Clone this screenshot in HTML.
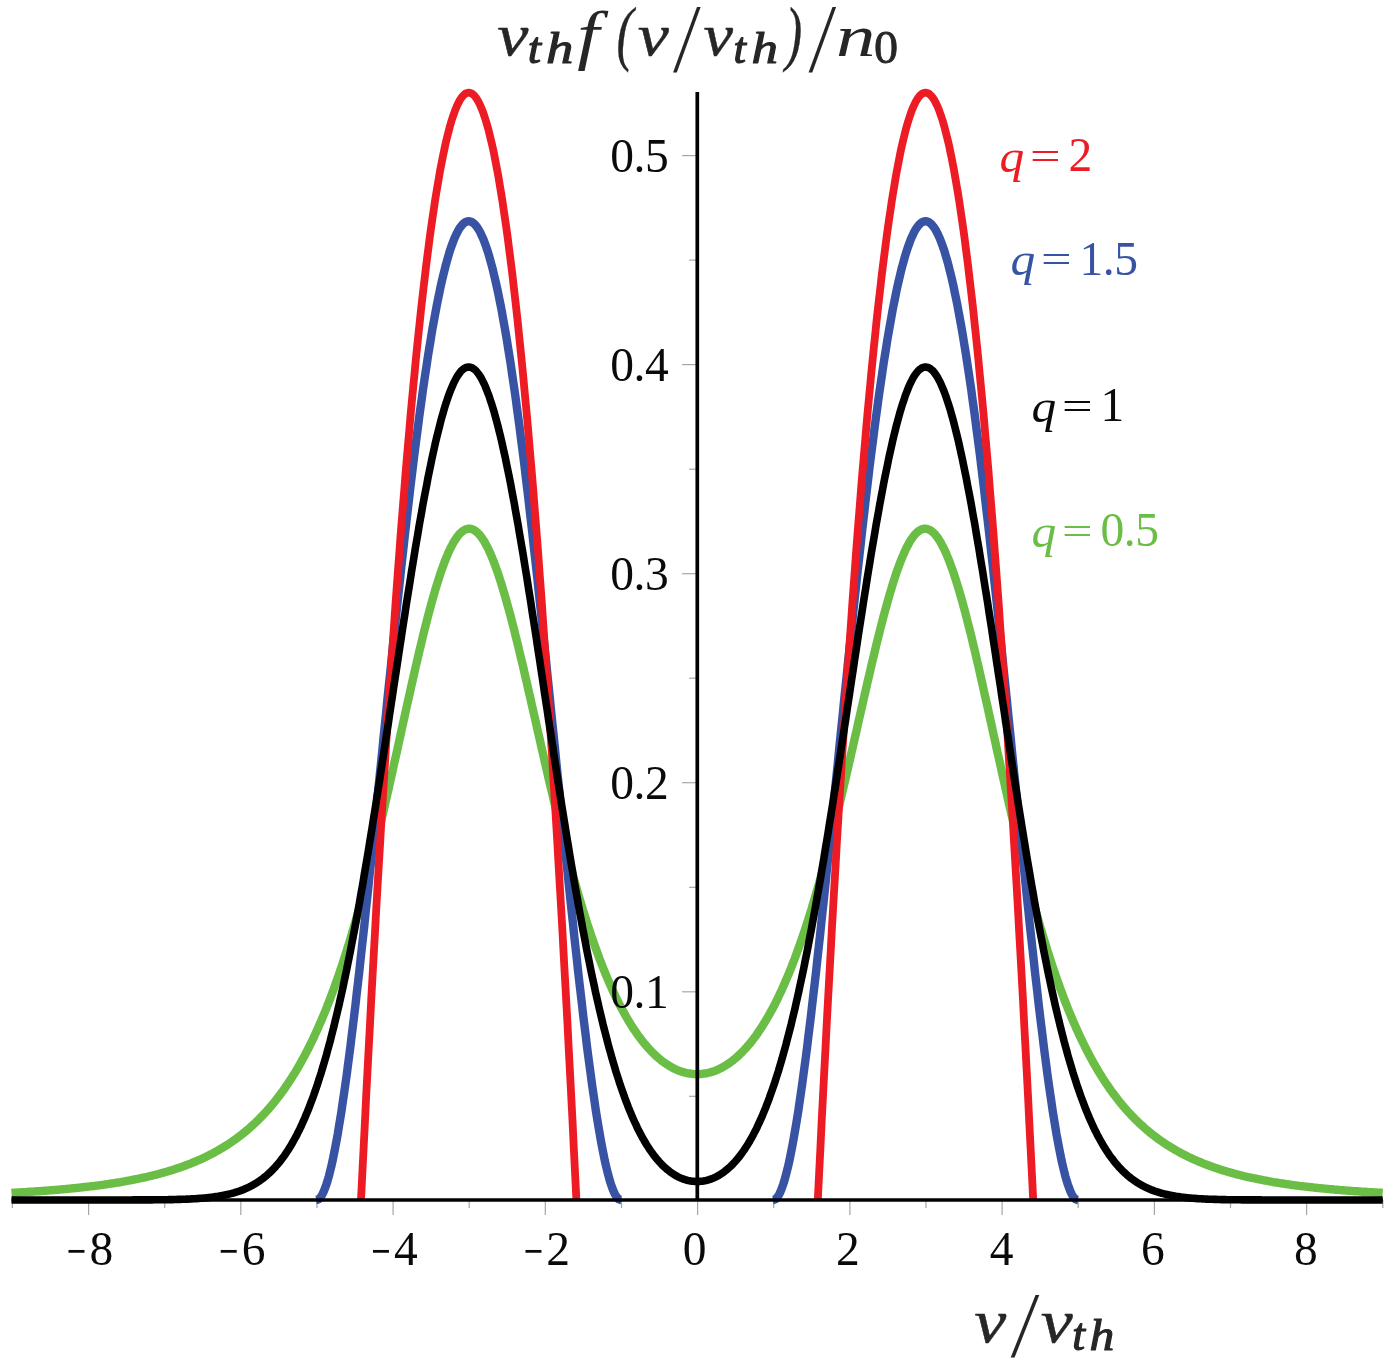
<!DOCTYPE html>
<html><head><meta charset="utf-8"><title>q-distribution</title>
<style>
html,body{margin:0;padding:0;background:#fff;}
body{width:1400px;height:1366px;overflow:hidden;position:relative;}
svg{position:absolute;left:0;top:0;display:block;}
text{font-family:"Liberation Serif","DejaVu Serif",serif;}
.num text{font-size:47.5px;}
.num{fill:#0a0a0a;}
.lg text{font-size:47.5px;}
.ax{fill:#262626;}
</style></head><body>
<svg width="1400" height="1366" viewBox="0 0 1400 1366">
<defs><filter id="bl" x="-5%" y="-20%" width="110%" height="140%"><feGaussianBlur stdDeviation="0.7"/></filter></defs>
<rect width="1400" height="1366" fill="#fff"/>
<g stroke="#a6a6a6" stroke-width="1.2"><line x1="12.4" y1="1200.0" x2="12.4" y2="1208.0"/><line x1="88.6" y1="1200.0" x2="88.6" y2="1215.0"/><line x1="164.7" y1="1200.0" x2="164.7" y2="1208.0"/><line x1="240.8" y1="1200.0" x2="240.8" y2="1215.0"/><line x1="317.0" y1="1200.0" x2="317.0" y2="1208.0"/><line x1="393.1" y1="1200.0" x2="393.1" y2="1215.0"/><line x1="469.2" y1="1200.0" x2="469.2" y2="1208.0"/><line x1="545.3" y1="1200.0" x2="545.3" y2="1215.0"/><line x1="621.5" y1="1200.0" x2="621.5" y2="1208.0"/><line x1="697.6" y1="1200.0" x2="697.6" y2="1215.0"/><line x1="773.7" y1="1200.0" x2="773.7" y2="1208.0"/><line x1="849.9" y1="1200.0" x2="849.9" y2="1215.0"/><line x1="926.0" y1="1200.0" x2="926.0" y2="1208.0"/><line x1="1002.1" y1="1200.0" x2="1002.1" y2="1215.0"/><line x1="1078.2" y1="1200.0" x2="1078.2" y2="1208.0"/><line x1="1154.4" y1="1200.0" x2="1154.4" y2="1215.0"/><line x1="1230.5" y1="1200.0" x2="1230.5" y2="1208.0"/><line x1="1306.6" y1="1200.0" x2="1306.6" y2="1215.0"/><line x1="1382.8" y1="1200.0" x2="1382.8" y2="1208.0"/><line x1="689.1" y1="1096.3" x2="697.1" y2="1096.3"/><line x1="682.1" y1="991.8" x2="697.1" y2="991.8"/><line x1="689.1" y1="887.3" x2="697.1" y2="887.3"/><line x1="682.1" y1="782.7" x2="697.1" y2="782.7"/><line x1="689.1" y1="678.2" x2="697.1" y2="678.2"/><line x1="682.1" y1="573.7" x2="697.1" y2="573.7"/><line x1="689.1" y1="469.2" x2="697.1" y2="469.2"/><line x1="682.1" y1="364.6" x2="697.1" y2="364.6"/><line x1="689.1" y1="260.1" x2="697.1" y2="260.1"/><line x1="682.1" y1="155.6" x2="697.1" y2="155.6"/></g>
<g fill="none" stroke-linejoin="round" stroke-linecap="butt">
<path d="M11.5,1192.9 L12.7,1192.8 L14.0,1192.8 L15.3,1192.7 L16.6,1192.6 L17.8,1192.5 L19.1,1192.5 L20.4,1192.4 L21.6,1192.3 L22.9,1192.2 L24.2,1192.2 L25.4,1192.1 L26.7,1192.0 L28.0,1191.9 L29.2,1191.8 L30.5,1191.8 L31.8,1191.7 L33.1,1191.6 L34.3,1191.5 L35.6,1191.4 L36.9,1191.3 L38.1,1191.2 L39.4,1191.2 L40.7,1191.1 L41.9,1191.0 L43.2,1190.9 L44.5,1190.8 L45.8,1190.7 L47.0,1190.6 L48.3,1190.5 L49.6,1190.4 L50.8,1190.3 L52.1,1190.2 L53.4,1190.1 L54.6,1190.0 L55.9,1189.9 L57.2,1189.8 L58.5,1189.7 L59.7,1189.6 L61.0,1189.4 L62.3,1189.3 L63.5,1189.2 L64.8,1189.1 L66.1,1189.0 L67.3,1188.9 L68.6,1188.7 L69.9,1188.6 L71.1,1188.5 L72.4,1188.4 L73.7,1188.2 L75.0,1188.1 L76.2,1188.0 L77.5,1187.9 L78.8,1187.7 L80.0,1187.6 L81.3,1187.4 L82.6,1187.3 L83.8,1187.2 L85.1,1187.0 L86.4,1186.9 L87.7,1186.7 L88.9,1186.6 L90.2,1186.4 L91.5,1186.3 L92.7,1186.1 L94.0,1186.0 L95.3,1185.8 L96.5,1185.6 L97.8,1185.5 L99.1,1185.3 L100.4,1185.1 L101.6,1185.0 L102.9,1184.8 L104.2,1184.6 L105.4,1184.4 L106.7,1184.2 L108.0,1184.1 L109.2,1183.9 L110.5,1183.7 L111.8,1183.5 L113.0,1183.3 L114.3,1183.1 L115.6,1182.9 L116.9,1182.7 L118.1,1182.5 L119.4,1182.3 L120.7,1182.1 L121.9,1181.8 L123.2,1181.6 L124.5,1181.4 L125.7,1181.2 L127.0,1180.9 L128.3,1180.7 L129.6,1180.5 L130.8,1180.2 L132.1,1180.0 L133.4,1179.7 L134.6,1179.5 L135.9,1179.2 L137.2,1179.0 L138.4,1178.7 L139.7,1178.4 L141.0,1178.2 L142.3,1177.9 L143.5,1177.6 L144.8,1177.3 L146.1,1177.1 L147.3,1176.8 L148.6,1176.5 L149.9,1176.2 L151.1,1175.9 L152.4,1175.6 L153.7,1175.2 L154.9,1174.9 L156.2,1174.6 L157.5,1174.3 L158.8,1173.9 L160.0,1173.6 L161.3,1173.2 L162.6,1172.9 L163.8,1172.5 L165.1,1172.2 L166.4,1171.8 L167.6,1171.4 L168.9,1171.0 L170.2,1170.7 L171.5,1170.3 L172.7,1169.9 L174.0,1169.5 L175.3,1169.1 L176.5,1168.6 L177.8,1168.2 L179.1,1167.8 L180.3,1167.3 L181.6,1166.9 L182.9,1166.4 L184.1,1166.0 L185.4,1165.5 L186.7,1165.0 L188.0,1164.6 L189.2,1164.1 L190.5,1163.6 L191.8,1163.1 L193.0,1162.5 L194.3,1162.0 L195.6,1161.5 L196.8,1160.9 L198.1,1160.4 L199.4,1159.8 L200.7,1159.3 L201.9,1158.7 L203.2,1158.1 L204.5,1157.5 L205.7,1156.9 L207.0,1156.3 L208.3,1155.6 L209.5,1155.0 L210.8,1154.3 L212.1,1153.7 L213.4,1153.0 L214.6,1152.3 L215.9,1151.6 L217.2,1150.9 L218.4,1150.2 L219.7,1149.5 L221.0,1148.7 L222.2,1148.0 L223.5,1147.2 L224.8,1146.4 L226.0,1145.6 L227.3,1144.8 L228.6,1144.0 L229.9,1143.1 L231.1,1142.3 L232.4,1141.4 L233.7,1140.5 L234.9,1139.6 L236.2,1138.7 L237.5,1137.8 L238.7,1136.8 L240.0,1135.8 L241.3,1134.9 L242.6,1133.9 L243.8,1132.8 L245.1,1131.8 L246.4,1130.7 L247.6,1129.7 L248.9,1128.6 L250.2,1127.5 L251.4,1126.3 L252.7,1125.2 L254.0,1124.0 L255.3,1122.8 L256.5,1121.6 L257.8,1120.4 L259.1,1119.1 L260.3,1117.8 L261.6,1116.5 L262.9,1115.2 L264.1,1113.9 L265.4,1112.5 L266.7,1111.1 L267.9,1109.7 L269.2,1108.2 L270.5,1106.7 L271.8,1105.2 L273.0,1103.7 L274.3,1102.2 L275.6,1100.6 L276.8,1099.0 L278.1,1097.3 L279.4,1095.6 L280.6,1094.0 L281.9,1092.2 L283.2,1090.5 L284.5,1088.7 L285.7,1086.8 L287.0,1085.0 L288.3,1083.1 L289.5,1081.2 L290.8,1079.2 L292.1,1077.2 L293.3,1075.2 L294.6,1073.2 L295.9,1071.1 L297.2,1068.9 L298.4,1066.8 L299.7,1064.5 L301.0,1062.3 L302.2,1060.0 L303.5,1057.7 L304.8,1055.3 L306.0,1052.9 L307.3,1050.5 L308.6,1048.0 L309.8,1045.4 L311.1,1042.9 L312.4,1040.2 L313.7,1037.6 L314.9,1034.9 L316.2,1032.1 L317.5,1029.3 L318.7,1026.4 L320.0,1023.5 L321.3,1020.6 L322.5,1017.6 L323.8,1014.6 L325.1,1011.5 L326.4,1008.3 L327.6,1005.1 L328.9,1001.9 L330.2,998.6 L331.4,995.2 L332.7,991.8 L334.0,988.4 L335.2,984.9 L336.5,981.3 L337.8,977.7 L339.1,974.0 L340.3,970.3 L341.6,966.5 L342.9,962.7 L344.1,958.8 L345.4,954.8 L346.7,950.8 L347.9,946.8 L349.2,942.7 L350.5,938.5 L351.7,934.3 L353.0,930.0 L354.3,925.6 L355.6,921.2 L356.8,916.8 L358.1,912.3 L359.4,907.7 L360.6,903.1 L361.9,898.4 L363.2,893.6 L364.4,888.9 L365.7,884.0 L367.0,879.1 L368.3,874.2 L369.5,869.2 L370.8,864.1 L372.1,859.0 L373.3,853.9 L374.6,848.7 L375.9,843.4 L377.1,838.1 L378.4,832.8 L379.7,827.4 L380.9,822.0 L382.2,816.6 L383.5,811.1 L384.8,805.6 L386.0,800.0 L387.3,794.4 L388.6,788.8 L389.8,783.1 L391.1,777.5 L392.4,771.8 L393.6,766.0 L394.9,760.3 L396.2,754.6 L397.5,748.8 L398.7,743.0 L400.0,737.3 L401.3,731.5 L402.5,725.7 L403.8,720.0 L405.1,714.2 L406.3,708.5 L407.6,702.7 L408.9,697.0 L410.2,691.3 L411.4,685.7 L412.7,680.0 L414.0,674.4 L415.2,668.9 L416.5,663.4 L417.8,657.9 L419.0,652.5 L420.3,647.2 L421.6,641.9 L422.8,636.6 L424.1,631.5 L425.4,626.4 L426.7,621.4 L427.9,616.5 L429.2,611.7 L430.5,606.9 L431.7,602.3 L433.0,597.8 L434.3,593.4 L435.5,589.1 L436.8,584.9 L438.1,580.8 L439.4,576.8 L440.6,573.0 L441.9,569.4 L443.2,565.8 L444.4,562.4 L445.7,559.1 L447.0,556.0 L448.2,553.1 L449.5,550.3 L450.8,547.6 L452.1,545.2 L453.3,542.8 L454.6,540.7 L455.9,538.7 L457.1,536.9 L458.4,535.3 L459.7,533.8 L460.9,532.6 L462.2,531.5 L463.5,530.6 L464.7,529.8 L466.0,529.3 L467.3,528.9 L468.6,528.7 L469.8,528.7 L471.1,528.9 L472.4,529.3 L473.6,529.8 L474.9,530.6 L476.2,531.5 L477.4,532.6 L478.7,533.9 L480.0,535.3 L481.3,537.0 L482.5,538.8 L483.8,540.7 L485.1,542.9 L486.3,545.2 L487.6,547.6 L488.9,550.3 L490.1,553.0 L491.4,556.0 L492.7,559.1 L494.0,562.3 L495.2,565.7 L496.5,569.2 L497.8,572.8 L499.0,576.6 L500.3,580.5 L501.6,584.5 L502.8,588.7 L504.1,592.9 L505.4,597.3 L506.6,601.7 L507.9,606.3 L509.2,611.0 L510.5,615.7 L511.7,620.5 L513.0,625.5 L514.3,630.4 L515.5,635.5 L516.8,640.6 L518.1,645.8 L519.3,651.1 L520.6,656.4 L521.9,661.7 L523.2,667.1 L524.4,672.5 L525.7,678.0 L527.0,683.5 L528.2,689.0 L529.5,694.5 L530.8,700.1 L532.0,705.7 L533.3,711.3 L534.6,716.9 L535.9,722.5 L537.1,728.1 L538.4,733.7 L539.7,739.3 L540.9,744.9 L542.2,750.4 L543.5,756.0 L544.7,761.5 L546.0,767.1 L547.3,772.6 L548.5,778.0 L549.8,783.5 L551.1,788.9 L552.4,794.3 L553.6,799.6 L554.9,804.9 L556.2,810.2 L557.4,815.4 L558.7,820.6 L560.0,825.7 L561.2,830.8 L562.5,835.9 L563.8,840.9 L565.1,845.8 L566.3,850.7 L567.6,855.6 L568.9,860.4 L570.1,865.1 L571.4,869.8 L572.7,874.5 L573.9,879.0 L575.2,883.5 L576.5,888.0 L577.8,892.4 L579.0,896.8 L580.3,901.0 L581.6,905.3 L582.8,909.4 L584.1,913.5 L585.4,917.6 L586.6,921.6 L587.9,925.5 L589.2,929.4 L590.4,933.2 L591.7,936.9 L593.0,940.6 L594.3,944.3 L595.5,947.8 L596.8,951.3 L598.1,954.8 L599.3,958.2 L600.6,961.5 L601.9,964.8 L603.1,968.0 L604.4,971.2 L605.7,974.3 L607.0,977.3 L608.2,980.3 L609.5,983.2 L610.8,986.1 L612.0,988.9 L613.3,991.7 L614.6,994.4 L615.8,997.1 L617.1,999.7 L618.4,1002.2 L619.6,1004.7 L620.9,1007.2 L622.2,1009.6 L623.5,1011.9 L624.7,1014.2 L626.0,1016.4 L627.3,1018.6 L628.5,1020.8 L629.8,1022.8 L631.1,1024.9 L632.3,1026.9 L633.6,1028.8 L634.9,1030.7 L636.2,1032.6 L637.4,1034.4 L638.7,1036.2 L640.0,1037.9 L641.2,1039.5 L642.5,1041.2 L643.8,1042.8 L645.0,1044.3 L646.3,1045.8 L647.6,1047.3 L648.9,1048.7 L650.1,1050.0 L651.4,1051.4 L652.7,1052.7 L653.9,1053.9 L655.2,1055.1 L656.5,1056.3 L657.7,1057.4 L659.0,1058.5 L660.3,1059.5 L661.5,1060.6 L662.8,1061.5 L664.1,1062.5 L665.4,1063.4 L666.6,1064.2 L667.9,1065.0 L669.2,1065.8 L670.4,1066.6 L671.7,1067.3 L673.0,1068.0 L674.2,1068.6 L675.5,1069.2 L676.8,1069.8 L678.1,1070.3 L679.3,1070.8 L680.6,1071.3 L681.9,1071.7 L683.1,1072.1 L684.4,1072.4 L685.7,1072.8 L686.9,1073.1 L688.2,1073.3 L689.5,1073.5 L690.8,1073.7 L692.0,1073.9 L693.3,1074.0 L694.6,1074.1 L695.8,1074.1 L697.1,1074.2 L698.4,1074.1 L699.6,1074.1 L700.9,1074.0 L702.2,1073.9 L703.4,1073.7 L704.7,1073.5 L706.0,1073.3 L707.3,1073.1 L708.5,1072.8 L709.8,1072.4 L711.1,1072.1 L712.3,1071.7 L713.6,1071.3 L714.9,1070.8 L716.1,1070.3 L717.4,1069.8 L718.7,1069.2 L720.0,1068.6 L721.2,1068.0 L722.5,1067.3 L723.8,1066.6 L725.0,1065.8 L726.3,1065.0 L727.6,1064.2 L728.8,1063.4 L730.1,1062.5 L731.4,1061.5 L732.7,1060.6 L733.9,1059.5 L735.2,1058.5 L736.5,1057.4 L737.7,1056.3 L739.0,1055.1 L740.3,1053.9 L741.5,1052.7 L742.8,1051.4 L744.1,1050.0 L745.3,1048.7 L746.6,1047.3 L747.9,1045.8 L749.2,1044.3 L750.4,1042.8 L751.7,1041.2 L753.0,1039.5 L754.2,1037.9 L755.5,1036.2 L756.8,1034.4 L758.0,1032.6 L759.3,1030.7 L760.6,1028.8 L761.9,1026.9 L763.1,1024.9 L764.4,1022.8 L765.7,1020.8 L766.9,1018.6 L768.2,1016.4 L769.5,1014.2 L770.7,1011.9 L772.0,1009.6 L773.3,1007.2 L774.6,1004.7 L775.8,1002.2 L777.1,999.7 L778.4,997.1 L779.6,994.4 L780.9,991.7 L782.2,988.9 L783.4,986.1 L784.7,983.2 L786.0,980.3 L787.2,977.3 L788.5,974.3 L789.8,971.2 L791.1,968.0 L792.3,964.8 L793.6,961.5 L794.9,958.2 L796.1,954.8 L797.4,951.3 L798.7,947.8 L799.9,944.3 L801.2,940.6 L802.5,936.9 L803.8,933.2 L805.0,929.4 L806.3,925.5 L807.6,921.6 L808.8,917.6 L810.1,913.5 L811.4,909.4 L812.6,905.3 L813.9,901.0 L815.2,896.8 L816.4,892.4 L817.7,888.0 L819.0,883.5 L820.3,879.0 L821.5,874.5 L822.8,869.8 L824.1,865.1 L825.3,860.4 L826.6,855.6 L827.9,850.7 L829.1,845.8 L830.4,840.9 L831.7,835.9 L833.0,830.8 L834.2,825.7 L835.5,820.6 L836.8,815.4 L838.0,810.2 L839.3,804.9 L840.6,799.6 L841.8,794.3 L843.1,788.9 L844.4,783.5 L845.7,778.0 L846.9,772.6 L848.2,767.1 L849.5,761.5 L850.7,756.0 L852.0,750.4 L853.3,744.9 L854.5,739.3 L855.8,733.7 L857.1,728.1 L858.3,722.5 L859.6,716.9 L860.9,711.3 L862.2,705.7 L863.4,700.1 L864.7,694.5 L866.0,689.0 L867.2,683.5 L868.5,678.0 L869.8,672.5 L871.0,667.1 L872.3,661.7 L873.6,656.4 L874.9,651.1 L876.1,645.8 L877.4,640.6 L878.7,635.5 L879.9,630.4 L881.2,625.5 L882.5,620.5 L883.7,615.7 L885.0,611.0 L886.3,606.3 L887.6,601.7 L888.8,597.3 L890.1,592.9 L891.4,588.7 L892.6,584.5 L893.9,580.5 L895.2,576.6 L896.4,572.8 L897.7,569.2 L899.0,565.7 L900.2,562.3 L901.5,559.1 L902.8,556.0 L904.1,553.0 L905.3,550.3 L906.6,547.6 L907.9,545.2 L909.1,542.9 L910.4,540.7 L911.7,538.8 L912.9,537.0 L914.2,535.3 L915.5,533.9 L916.8,532.6 L918.0,531.5 L919.3,530.6 L920.6,529.8 L921.8,529.3 L923.1,528.9 L924.4,528.7 L925.6,528.7 L926.9,528.9 L928.2,529.3 L929.5,529.8 L930.7,530.6 L932.0,531.5 L933.3,532.6 L934.5,533.8 L935.8,535.3 L937.1,536.9 L938.3,538.7 L939.6,540.7 L940.9,542.8 L942.1,545.2 L943.4,547.6 L944.7,550.3 L946.0,553.1 L947.2,556.0 L948.5,559.1 L949.8,562.4 L951.0,565.8 L952.3,569.4 L953.6,573.0 L954.8,576.8 L956.1,580.8 L957.4,584.9 L958.7,589.1 L959.9,593.4 L961.2,597.8 L962.5,602.3 L963.7,606.9 L965.0,611.7 L966.3,616.5 L967.5,621.4 L968.8,626.4 L970.1,631.5 L971.4,636.6 L972.6,641.9 L973.9,647.2 L975.2,652.5 L976.4,657.9 L977.7,663.4 L979.0,668.9 L980.2,674.4 L981.5,680.0 L982.8,685.7 L984.0,691.3 L985.3,697.0 L986.6,702.7 L987.9,708.5 L989.1,714.2 L990.4,720.0 L991.7,725.7 L992.9,731.5 L994.2,737.3 L995.5,743.0 L996.7,748.8 L998.0,754.6 L999.3,760.3 L1000.6,766.0 L1001.8,771.8 L1003.1,777.5 L1004.4,783.1 L1005.6,788.8 L1006.9,794.4 L1008.2,800.0 L1009.4,805.6 L1010.7,811.1 L1012.0,816.6 L1013.3,822.0 L1014.5,827.4 L1015.8,832.8 L1017.1,838.1 L1018.3,843.4 L1019.6,848.7 L1020.9,853.9 L1022.1,859.0 L1023.4,864.1 L1024.7,869.2 L1025.9,874.2 L1027.2,879.1 L1028.5,884.0 L1029.8,888.9 L1031.0,893.6 L1032.3,898.4 L1033.6,903.1 L1034.8,907.7 L1036.1,912.3 L1037.4,916.8 L1038.6,921.2 L1039.9,925.6 L1041.2,930.0 L1042.5,934.3 L1043.7,938.5 L1045.0,942.7 L1046.3,946.8 L1047.5,950.8 L1048.8,954.8 L1050.1,958.8 L1051.3,962.7 L1052.6,966.5 L1053.9,970.3 L1055.1,974.0 L1056.4,977.7 L1057.7,981.3 L1059.0,984.9 L1060.2,988.4 L1061.5,991.8 L1062.8,995.2 L1064.0,998.6 L1065.3,1001.9 L1066.6,1005.1 L1067.8,1008.3 L1069.1,1011.5 L1070.4,1014.6 L1071.7,1017.6 L1072.9,1020.6 L1074.2,1023.5 L1075.5,1026.4 L1076.7,1029.3 L1078.0,1032.1 L1079.3,1034.9 L1080.5,1037.6 L1081.8,1040.2 L1083.1,1042.9 L1084.4,1045.4 L1085.6,1048.0 L1086.9,1050.5 L1088.2,1052.9 L1089.4,1055.3 L1090.7,1057.7 L1092.0,1060.0 L1093.2,1062.3 L1094.5,1064.5 L1095.8,1066.8 L1097.0,1068.9 L1098.3,1071.1 L1099.6,1073.2 L1100.9,1075.2 L1102.1,1077.2 L1103.4,1079.2 L1104.7,1081.2 L1105.9,1083.1 L1107.2,1085.0 L1108.5,1086.8 L1109.7,1088.7 L1111.0,1090.5 L1112.3,1092.2 L1113.6,1094.0 L1114.8,1095.6 L1116.1,1097.3 L1117.4,1099.0 L1118.6,1100.6 L1119.9,1102.2 L1121.2,1103.7 L1122.4,1105.2 L1123.7,1106.7 L1125.0,1108.2 L1126.3,1109.7 L1127.5,1111.1 L1128.8,1112.5 L1130.1,1113.9 L1131.3,1115.2 L1132.6,1116.5 L1133.9,1117.8 L1135.1,1119.1 L1136.4,1120.4 L1137.7,1121.6 L1138.9,1122.8 L1140.2,1124.0 L1141.5,1125.2 L1142.8,1126.3 L1144.0,1127.5 L1145.3,1128.6 L1146.6,1129.7 L1147.8,1130.7 L1149.1,1131.8 L1150.4,1132.8 L1151.6,1133.9 L1152.9,1134.9 L1154.2,1135.8 L1155.5,1136.8 L1156.7,1137.8 L1158.0,1138.7 L1159.3,1139.6 L1160.5,1140.5 L1161.8,1141.4 L1163.1,1142.3 L1164.3,1143.1 L1165.6,1144.0 L1166.9,1144.8 L1168.2,1145.6 L1169.4,1146.4 L1170.7,1147.2 L1172.0,1148.0 L1173.2,1148.7 L1174.5,1149.5 L1175.8,1150.2 L1177.0,1150.9 L1178.3,1151.6 L1179.6,1152.3 L1180.8,1153.0 L1182.1,1153.7 L1183.4,1154.3 L1184.7,1155.0 L1185.9,1155.6 L1187.2,1156.3 L1188.5,1156.9 L1189.7,1157.5 L1191.0,1158.1 L1192.3,1158.7 L1193.5,1159.3 L1194.8,1159.8 L1196.1,1160.4 L1197.4,1160.9 L1198.6,1161.5 L1199.9,1162.0 L1201.2,1162.5 L1202.4,1163.1 L1203.7,1163.6 L1205.0,1164.1 L1206.2,1164.6 L1207.5,1165.0 L1208.8,1165.5 L1210.1,1166.0 L1211.3,1166.4 L1212.6,1166.9 L1213.9,1167.3 L1215.1,1167.8 L1216.4,1168.2 L1217.7,1168.6 L1218.9,1169.1 L1220.2,1169.5 L1221.5,1169.9 L1222.7,1170.3 L1224.0,1170.7 L1225.3,1171.0 L1226.6,1171.4 L1227.8,1171.8 L1229.1,1172.2 L1230.4,1172.5 L1231.6,1172.9 L1232.9,1173.2 L1234.2,1173.6 L1235.4,1173.9 L1236.7,1174.3 L1238.0,1174.6 L1239.3,1174.9 L1240.5,1175.2 L1241.8,1175.6 L1243.1,1175.9 L1244.3,1176.2 L1245.6,1176.5 L1246.9,1176.8 L1248.1,1177.1 L1249.4,1177.3 L1250.7,1177.6 L1251.9,1177.9 L1253.2,1178.2 L1254.5,1178.4 L1255.8,1178.7 L1257.0,1179.0 L1258.3,1179.2 L1259.6,1179.5 L1260.8,1179.7 L1262.1,1180.0 L1263.4,1180.2 L1264.6,1180.5 L1265.9,1180.7 L1267.2,1180.9 L1268.5,1181.2 L1269.7,1181.4 L1271.0,1181.6 L1272.3,1181.8 L1273.5,1182.1 L1274.8,1182.3 L1276.1,1182.5 L1277.3,1182.7 L1278.6,1182.9 L1279.9,1183.1 L1281.2,1183.3 L1282.4,1183.5 L1283.7,1183.7 L1285.0,1183.9 L1286.2,1184.1 L1287.5,1184.2 L1288.8,1184.4 L1290.0,1184.6 L1291.3,1184.8 L1292.6,1185.0 L1293.8,1185.1 L1295.1,1185.3 L1296.4,1185.5 L1297.7,1185.6 L1298.9,1185.8 L1300.2,1186.0 L1301.5,1186.1 L1302.7,1186.3 L1304.0,1186.4 L1305.3,1186.6 L1306.5,1186.7 L1307.8,1186.9 L1309.1,1187.0 L1310.4,1187.2 L1311.6,1187.3 L1312.9,1187.4 L1314.2,1187.6 L1315.4,1187.7 L1316.7,1187.9 L1318.0,1188.0 L1319.2,1188.1 L1320.5,1188.2 L1321.8,1188.4 L1323.1,1188.5 L1324.3,1188.6 L1325.6,1188.7 L1326.9,1188.9 L1328.1,1189.0 L1329.4,1189.1 L1330.7,1189.2 L1331.9,1189.3 L1333.2,1189.4 L1334.5,1189.6 L1335.7,1189.7 L1337.0,1189.8 L1338.3,1189.9 L1339.6,1190.0 L1340.8,1190.1 L1342.1,1190.2 L1343.4,1190.3 L1344.6,1190.4 L1345.9,1190.5 L1347.2,1190.6 L1348.4,1190.7 L1349.7,1190.8 L1351.0,1190.9 L1352.3,1191.0 L1353.5,1191.1 L1354.8,1191.2 L1356.1,1191.2 L1357.3,1191.3 L1358.6,1191.4 L1359.9,1191.5 L1361.1,1191.6 L1362.4,1191.7 L1363.7,1191.8 L1365.0,1191.8 L1366.2,1191.9 L1367.5,1192.0 L1368.8,1192.1 L1370.0,1192.2 L1371.3,1192.2 L1372.6,1192.3 L1373.8,1192.4 L1375.1,1192.5 L1376.4,1192.5 L1377.6,1192.6 L1378.9,1192.7 L1380.2,1192.8 L1381.5,1192.8 L1382.7,1192.9" stroke="#6abd45" stroke-width="8.4"/>
<path d="M316.1,1200.0 L317.4,1199.8 L318.7,1199.2 L320.0,1198.0 L321.2,1196.3 L322.5,1194.1 L323.8,1191.4 L325.0,1188.2 L326.3,1184.6 L327.6,1180.6 L328.9,1176.1 L330.1,1171.2 L331.4,1165.9 L332.7,1160.2 L333.9,1154.1 L335.2,1147.6 L336.5,1140.8 L337.8,1133.7 L339.0,1126.2 L340.3,1118.4 L341.6,1110.3 L342.8,1101.9 L344.1,1093.2 L345.4,1084.2 L346.7,1075.0 L347.9,1065.5 L349.2,1055.7 L350.5,1045.8 L351.7,1035.6 L353.0,1025.2 L354.3,1014.6 L355.6,1003.8 L356.8,992.8 L358.1,981.7 L359.4,970.4 L360.6,959.0 L361.9,947.4 L363.2,935.7 L364.5,923.8 L365.7,911.9 L367.0,899.8 L368.3,887.7 L369.5,875.5 L370.8,863.2 L372.1,850.8 L373.4,838.4 L374.6,826.0 L375.9,813.4 L377.2,800.9 L378.4,788.3 L379.7,775.8 L381.0,763.2 L382.3,750.6 L383.5,738.0 L384.8,725.5 L386.1,713.0 L387.3,700.5 L388.6,688.0 L389.9,675.6 L391.2,663.2 L392.4,650.9 L393.7,638.7 L395.0,626.5 L396.2,614.5 L397.5,602.5 L398.8,590.6 L400.1,578.8 L401.3,567.1 L402.6,555.5 L403.9,544.1 L405.1,532.7 L406.4,521.5 L407.7,510.4 L409.0,499.5 L410.2,488.7 L411.5,478.1 L412.8,467.6 L414.0,457.3 L415.3,447.2 L416.6,437.2 L417.9,427.4 L419.1,417.8 L420.4,408.4 L421.7,399.2 L422.9,390.1 L424.2,381.3 L425.5,372.7 L426.8,364.2 L428.0,356.0 L429.3,348.0 L430.6,340.2 L431.8,332.7 L433.1,325.3 L434.4,318.2 L435.7,311.3 L436.9,304.7 L438.2,298.3 L439.5,292.1 L440.7,286.2 L442.0,280.5 L443.3,275.1 L444.6,269.9 L445.8,265.0 L447.1,260.3 L448.4,255.9 L449.6,251.7 L450.9,247.8 L452.2,244.2 L453.5,240.8 L454.7,237.7 L456.0,234.9 L457.3,232.3 L458.5,230.0 L459.8,227.9 L461.1,226.2 L462.4,224.7 L463.6,223.4 L464.9,222.5 L466.2,221.8 L467.4,221.4 L468.7,221.2 L470.0,221.4 L471.3,221.8 L472.5,222.5 L473.8,223.4 L475.1,224.7 L476.3,226.2 L477.6,227.9 L478.9,230.0 L480.2,232.3 L481.4,234.9 L482.7,237.7 L484.0,240.8 L485.2,244.2 L486.5,247.8 L487.8,251.7 L489.1,255.9 L490.3,260.3 L491.6,265.0 L492.9,269.9 L494.1,275.1 L495.4,280.5 L496.7,286.2 L498.0,292.1 L499.2,298.3 L500.5,304.7 L501.8,311.3 L503.0,318.2 L504.3,325.3 L505.6,332.7 L506.9,340.2 L508.1,348.0 L509.4,356.0 L510.7,364.2 L511.9,372.7 L513.2,381.3 L514.5,390.1 L515.8,399.2 L517.0,408.4 L518.3,417.8 L519.6,427.4 L520.8,437.2 L522.1,447.2 L523.4,457.3 L524.7,467.6 L525.9,478.1 L527.2,488.7 L528.5,499.5 L529.7,510.4 L531.0,521.5 L532.3,532.7 L533.5,544.1 L534.8,555.5 L536.1,567.1 L537.4,578.8 L538.6,590.6 L539.9,602.5 L541.2,614.5 L542.4,626.5 L543.7,638.7 L545.0,650.9 L546.3,663.2 L547.5,675.6 L548.8,688.0 L550.1,700.5 L551.3,713.0 L552.6,725.5 L553.9,738.0 L555.2,750.6 L556.4,763.2 L557.7,775.8 L559.0,788.3 L560.2,800.9 L561.5,813.4 L562.8,826.0 L564.1,838.4 L565.3,850.8 L566.6,863.2 L567.9,875.5 L569.1,887.7 L570.4,899.8 L571.7,911.9 L573.0,923.8 L574.2,935.7 L575.5,947.4 L576.8,959.0 L578.0,970.4 L579.3,981.7 L580.6,992.8 L581.9,1003.8 L583.1,1014.6 L584.4,1025.2 L585.7,1035.6 L586.9,1045.8 L588.2,1055.7 L589.5,1065.5 L590.8,1075.0 L592.0,1084.2 L593.3,1093.2 L594.6,1101.9 L595.8,1110.3 L597.1,1118.4 L598.4,1126.2 L599.7,1133.7 L600.9,1140.8 L602.2,1147.6 L603.5,1154.1 L604.7,1160.2 L606.0,1165.9 L607.3,1171.2 L608.6,1176.1 L609.8,1180.6 L611.1,1184.6 L612.4,1188.2 L613.6,1191.4 L614.9,1194.1 L616.2,1196.3 L617.5,1198.0 L618.7,1199.2 L620.0,1199.8 L621.3,1200.0 M772.9,1200.0 L774.2,1199.8 L775.5,1199.2 L776.7,1198.0 L778.0,1196.3 L779.3,1194.1 L780.6,1191.4 L781.8,1188.2 L783.1,1184.6 L784.4,1180.6 L785.6,1176.1 L786.9,1171.2 L788.2,1165.9 L789.5,1160.2 L790.7,1154.1 L792.0,1147.6 L793.3,1140.8 L794.5,1133.7 L795.8,1126.2 L797.1,1118.4 L798.4,1110.3 L799.6,1101.9 L800.9,1093.2 L802.2,1084.2 L803.4,1075.0 L804.7,1065.5 L806.0,1055.7 L807.3,1045.8 L808.5,1035.6 L809.8,1025.2 L811.1,1014.6 L812.3,1003.8 L813.6,992.8 L814.9,981.7 L816.2,970.4 L817.4,959.0 L818.7,947.4 L820.0,935.7 L821.2,923.8 L822.5,911.9 L823.8,899.8 L825.1,887.7 L826.3,875.5 L827.6,863.2 L828.9,850.8 L830.1,838.4 L831.4,826.0 L832.7,813.4 L834.0,800.9 L835.2,788.3 L836.5,775.8 L837.8,763.2 L839.0,750.6 L840.3,738.0 L841.6,725.5 L842.9,713.0 L844.1,700.5 L845.4,688.0 L846.7,675.6 L847.9,663.2 L849.2,650.9 L850.5,638.7 L851.8,626.5 L853.0,614.5 L854.3,602.5 L855.6,590.6 L856.8,578.8 L858.1,567.1 L859.4,555.5 L860.7,544.1 L861.9,532.7 L863.2,521.5 L864.5,510.4 L865.7,499.5 L867.0,488.7 L868.3,478.1 L869.5,467.6 L870.8,457.3 L872.1,447.2 L873.4,437.2 L874.6,427.4 L875.9,417.8 L877.2,408.4 L878.4,399.2 L879.7,390.1 L881.0,381.3 L882.3,372.7 L883.5,364.2 L884.8,356.0 L886.1,348.0 L887.3,340.2 L888.6,332.7 L889.9,325.3 L891.2,318.2 L892.4,311.3 L893.7,304.7 L895.0,298.3 L896.2,292.1 L897.5,286.2 L898.8,280.5 L900.1,275.1 L901.3,269.9 L902.6,265.0 L903.9,260.3 L905.1,255.9 L906.4,251.7 L907.7,247.8 L909.0,244.2 L910.2,240.8 L911.5,237.7 L912.8,234.9 L914.0,232.3 L915.3,230.0 L916.6,227.9 L917.9,226.2 L919.1,224.7 L920.4,223.4 L921.7,222.5 L922.9,221.8 L924.2,221.4 L925.5,221.2 L926.8,221.4 L928.0,221.8 L929.3,222.5 L930.6,223.4 L931.8,224.7 L933.1,226.2 L934.4,227.9 L935.7,230.0 L936.9,232.3 L938.2,234.9 L939.5,237.7 L940.7,240.8 L942.0,244.2 L943.3,247.8 L944.6,251.7 L945.8,255.9 L947.1,260.3 L948.4,265.0 L949.6,269.9 L950.9,275.1 L952.2,280.5 L953.5,286.2 L954.7,292.1 L956.0,298.3 L957.3,304.7 L958.5,311.3 L959.8,318.2 L961.1,325.3 L962.4,332.7 L963.6,340.2 L964.9,348.0 L966.2,356.0 L967.4,364.2 L968.7,372.7 L970.0,381.3 L971.3,390.1 L972.5,399.2 L973.8,408.4 L975.1,417.8 L976.3,427.4 L977.6,437.2 L978.9,447.2 L980.2,457.3 L981.4,467.6 L982.7,478.1 L984.0,488.7 L985.2,499.5 L986.5,510.4 L987.8,521.5 L989.1,532.7 L990.3,544.1 L991.6,555.5 L992.9,567.1 L994.1,578.8 L995.4,590.6 L996.7,602.5 L998.0,614.5 L999.2,626.5 L1000.5,638.7 L1001.8,650.9 L1003.0,663.2 L1004.3,675.6 L1005.6,688.0 L1006.9,700.5 L1008.1,713.0 L1009.4,725.5 L1010.7,738.0 L1011.9,750.6 L1013.2,763.2 L1014.5,775.8 L1015.8,788.3 L1017.0,800.9 L1018.3,813.4 L1019.6,826.0 L1020.8,838.4 L1022.1,850.8 L1023.4,863.2 L1024.7,875.5 L1025.9,887.7 L1027.2,899.8 L1028.5,911.9 L1029.7,923.8 L1031.0,935.7 L1032.3,947.4 L1033.6,959.0 L1034.8,970.4 L1036.1,981.7 L1037.4,992.8 L1038.6,1003.8 L1039.9,1014.6 L1041.2,1025.2 L1042.5,1035.6 L1043.7,1045.8 L1045.0,1055.7 L1046.3,1065.5 L1047.5,1075.0 L1048.8,1084.2 L1050.1,1093.2 L1051.4,1101.9 L1052.6,1110.3 L1053.9,1118.4 L1055.2,1126.2 L1056.4,1133.7 L1057.7,1140.8 L1059.0,1147.6 L1060.3,1154.1 L1061.5,1160.2 L1062.8,1165.9 L1064.1,1171.2 L1065.3,1176.1 L1066.6,1180.6 L1067.9,1184.6 L1069.2,1188.2 L1070.4,1191.4 L1071.7,1194.1 L1073.0,1196.3 L1074.2,1198.0 L1075.5,1199.2 L1076.8,1199.8 L1078.1,1200.0" stroke="#3853a4" stroke-width="8.4"/>
<path d="M361.0,1200.0 L362.3,1173.9 L363.6,1148.2 L364.9,1122.8 L366.1,1097.6 L367.4,1072.8 L368.7,1048.3 L370.0,1024.1 L371.2,1000.3 L372.5,976.7 L373.8,953.4 L375.1,930.5 L376.3,907.8 L377.6,885.5 L378.9,863.5 L380.2,841.8 L381.4,820.4 L382.7,799.3 L384.0,778.5 L385.3,758.0 L386.5,737.9 L387.8,718.0 L389.1,698.5 L390.4,679.2 L391.6,660.3 L392.9,641.7 L394.2,623.4 L395.4,605.4 L396.7,587.7 L398.0,570.4 L399.3,553.3 L400.5,536.6 L401.8,520.1 L403.1,504.0 L404.4,488.2 L405.6,472.7 L406.9,457.5 L408.2,442.6 L409.5,428.0 L410.7,413.7 L412.0,399.8 L413.3,386.1 L414.6,372.8 L415.8,359.8 L417.1,347.0 L418.4,334.6 L419.7,322.5 L420.9,310.8 L422.2,299.3 L423.5,288.1 L424.8,277.3 L426.0,266.7 L427.3,256.5 L428.6,246.6 L429.8,236.9 L431.1,227.6 L432.4,218.6 L433.7,210.0 L434.9,201.6 L436.2,193.5 L437.5,185.8 L438.8,178.3 L440.0,171.2 L441.3,164.4 L442.6,157.8 L443.9,151.6 L445.1,145.7 L446.4,140.2 L447.7,134.9 L449.0,129.9 L450.2,125.3 L451.5,120.9 L452.8,116.9 L454.1,113.2 L455.3,109.8 L456.6,106.7 L457.9,103.9 L459.2,101.4 L460.4,99.2 L461.7,97.4 L463.0,95.8 L464.3,94.6 L465.5,93.6 L466.8,93.0 L468.1,92.7 L469.3,92.7 L470.6,93.0 L471.9,93.6 L473.2,94.6 L474.4,95.8 L475.7,97.4 L477.0,99.2 L478.3,101.4 L479.5,103.9 L480.8,106.7 L482.1,109.8 L483.4,113.2 L484.6,116.9 L485.9,120.9 L487.2,125.3 L488.5,129.9 L489.7,134.9 L491.0,140.2 L492.3,145.7 L493.6,151.6 L494.8,157.8 L496.1,164.4 L497.4,171.2 L498.7,178.3 L499.9,185.8 L501.2,193.5 L502.5,201.6 L503.7,210.0 L505.0,218.6 L506.3,227.6 L507.6,236.9 L508.8,246.6 L510.1,256.5 L511.4,266.7 L512.7,277.3 L513.9,288.1 L515.2,299.3 L516.5,310.8 L517.8,322.5 L519.0,334.6 L520.3,347.0 L521.6,359.8 L522.9,372.8 L524.1,386.1 L525.4,399.8 L526.7,413.7 L528.0,428.0 L529.2,442.6 L530.5,457.5 L531.8,472.7 L533.1,488.2 L534.3,504.0 L535.6,520.1 L536.9,536.6 L538.2,553.3 L539.4,570.4 L540.7,587.7 L542.0,605.4 L543.2,623.4 L544.5,641.7 L545.8,660.3 L547.1,679.2 L548.3,698.5 L549.6,718.0 L550.9,737.9 L552.2,758.0 L553.4,778.5 L554.7,799.3 L556.0,820.4 L557.3,841.8 L558.5,863.5 L559.8,885.5 L561.1,907.8 L562.4,930.5 L563.6,953.4 L564.9,976.7 L566.2,1000.3 L567.5,1024.1 L568.7,1048.3 L570.0,1072.8 L571.3,1097.6 L572.6,1122.8 L573.8,1148.2 L575.1,1173.9 L576.4,1200.0 M817.8,1200.0 L819.1,1173.9 L820.4,1148.2 L821.6,1122.8 L822.9,1097.6 L824.2,1072.8 L825.5,1048.3 L826.7,1024.1 L828.0,1000.3 L829.3,976.7 L830.6,953.4 L831.8,930.5 L833.1,907.8 L834.4,885.5 L835.7,863.5 L836.9,841.8 L838.2,820.4 L839.5,799.3 L840.8,778.5 L842.0,758.0 L843.3,737.9 L844.6,718.0 L845.9,698.5 L847.1,679.2 L848.4,660.3 L849.7,641.7 L851.0,623.4 L852.2,605.4 L853.5,587.7 L854.8,570.4 L856.0,553.3 L857.3,536.6 L858.6,520.1 L859.9,504.0 L861.1,488.2 L862.4,472.7 L863.7,457.5 L865.0,442.6 L866.2,428.0 L867.5,413.7 L868.8,399.8 L870.1,386.1 L871.3,372.8 L872.6,359.8 L873.9,347.0 L875.2,334.6 L876.4,322.5 L877.7,310.8 L879.0,299.3 L880.3,288.1 L881.5,277.3 L882.8,266.7 L884.1,256.5 L885.4,246.6 L886.6,236.9 L887.9,227.6 L889.2,218.6 L890.5,210.0 L891.7,201.6 L893.0,193.5 L894.3,185.8 L895.5,178.3 L896.8,171.2 L898.1,164.4 L899.4,157.8 L900.6,151.6 L901.9,145.7 L903.2,140.2 L904.5,134.9 L905.7,129.9 L907.0,125.3 L908.3,120.9 L909.6,116.9 L910.8,113.2 L912.1,109.8 L913.4,106.7 L914.7,103.9 L915.9,101.4 L917.2,99.2 L918.5,97.4 L919.8,95.8 L921.0,94.6 L922.3,93.6 L923.6,93.0 L924.9,92.7 L926.1,92.7 L927.4,93.0 L928.7,93.6 L929.9,94.6 L931.2,95.8 L932.5,97.4 L933.8,99.2 L935.0,101.4 L936.3,103.9 L937.6,106.7 L938.9,109.8 L940.1,113.2 L941.4,116.9 L942.7,120.9 L944.0,125.3 L945.2,129.9 L946.5,134.9 L947.8,140.2 L949.1,145.7 L950.3,151.6 L951.6,157.8 L952.9,164.4 L954.2,171.2 L955.4,178.3 L956.7,185.8 L958.0,193.5 L959.3,201.6 L960.5,210.0 L961.8,218.6 L963.1,227.6 L964.4,236.9 L965.6,246.6 L966.9,256.5 L968.2,266.7 L969.4,277.3 L970.7,288.1 L972.0,299.3 L973.3,310.8 L974.5,322.5 L975.8,334.6 L977.1,347.0 L978.4,359.8 L979.6,372.8 L980.9,386.1 L982.2,399.8 L983.5,413.7 L984.7,428.0 L986.0,442.6 L987.3,457.5 L988.6,472.7 L989.8,488.2 L991.1,504.0 L992.4,520.1 L993.7,536.6 L994.9,553.3 L996.2,570.4 L997.5,587.7 L998.8,605.4 L1000.0,623.4 L1001.3,641.7 L1002.6,660.3 L1003.8,679.2 L1005.1,698.5 L1006.4,718.0 L1007.7,737.9 L1008.9,758.0 L1010.2,778.5 L1011.5,799.3 L1012.8,820.4 L1014.0,841.8 L1015.3,863.5 L1016.6,885.5 L1017.9,907.8 L1019.1,930.5 L1020.4,953.4 L1021.7,976.7 L1023.0,1000.3 L1024.2,1024.1 L1025.5,1048.3 L1026.8,1072.8 L1028.1,1097.6 L1029.3,1122.8 L1030.6,1148.2 L1031.9,1173.9 L1033.2,1200.0" stroke="#ed1c24" stroke-width="7.8"/>
<path d="M11.5,1200.0 L12.7,1200.0 L14.0,1200.0 L15.3,1200.0 L16.6,1200.0 L17.8,1200.0 L19.1,1200.0 L20.4,1200.0 L21.6,1200.0 L22.9,1200.0 L24.2,1200.0 L25.4,1200.0 L26.7,1200.0 L28.0,1200.0 L29.2,1200.0 L30.5,1200.0 L31.8,1200.0 L33.1,1200.0 L34.3,1200.0 L35.6,1200.0 L36.9,1200.0 L38.1,1200.0 L39.4,1200.0 L40.7,1200.0 L41.9,1200.0 L43.2,1200.0 L44.5,1200.0 L45.8,1200.0 L47.0,1200.0 L48.3,1200.0 L49.6,1200.0 L50.8,1200.0 L52.1,1200.0 L53.4,1200.0 L54.6,1200.0 L55.9,1200.0 L57.2,1200.0 L58.5,1200.0 L59.7,1200.0 L61.0,1200.0 L62.3,1200.0 L63.5,1200.0 L64.8,1200.0 L66.1,1200.0 L67.3,1200.0 L68.6,1200.0 L69.9,1200.0 L71.1,1200.0 L72.4,1200.0 L73.7,1200.0 L75.0,1200.0 L76.2,1200.0 L77.5,1200.0 L78.8,1200.0 L80.0,1200.0 L81.3,1200.0 L82.6,1200.0 L83.8,1200.0 L85.1,1200.0 L86.4,1200.0 L87.7,1200.0 L88.9,1200.0 L90.2,1200.0 L91.5,1200.0 L92.7,1200.0 L94.0,1200.0 L95.3,1200.0 L96.5,1200.0 L97.8,1200.0 L99.1,1200.0 L100.4,1200.0 L101.6,1200.0 L102.9,1200.0 L104.2,1200.0 L105.4,1200.0 L106.7,1200.0 L108.0,1200.0 L109.2,1200.0 L110.5,1200.0 L111.8,1200.0 L113.0,1200.0 L114.3,1200.0 L115.6,1200.0 L116.9,1200.0 L118.1,1200.0 L119.4,1200.0 L120.7,1200.0 L121.9,1200.0 L123.2,1200.0 L124.5,1200.0 L125.7,1200.0 L127.0,1200.0 L128.3,1200.0 L129.6,1200.0 L130.8,1200.0 L132.1,1200.0 L133.4,1199.9 L134.6,1199.9 L135.9,1199.9 L137.2,1199.9 L138.4,1199.9 L139.7,1199.9 L141.0,1199.9 L142.3,1199.9 L143.5,1199.9 L144.8,1199.9 L146.1,1199.9 L147.3,1199.9 L148.6,1199.9 L149.9,1199.9 L151.1,1199.9 L152.4,1199.9 L153.7,1199.8 L154.9,1199.8 L156.2,1199.8 L157.5,1199.8 L158.8,1199.8 L160.0,1199.8 L161.3,1199.8 L162.6,1199.7 L163.8,1199.7 L165.1,1199.7 L166.4,1199.7 L167.6,1199.7 L168.9,1199.6 L170.2,1199.6 L171.5,1199.6 L172.7,1199.6 L174.0,1199.5 L175.3,1199.5 L176.5,1199.5 L177.8,1199.4 L179.1,1199.4 L180.3,1199.4 L181.6,1199.3 L182.9,1199.3 L184.1,1199.2 L185.4,1199.2 L186.7,1199.1 L188.0,1199.1 L189.2,1199.0 L190.5,1199.0 L191.8,1198.9 L193.0,1198.8 L194.3,1198.7 L195.6,1198.7 L196.8,1198.6 L198.1,1198.5 L199.4,1198.4 L200.7,1198.3 L201.9,1198.2 L203.2,1198.1 L204.5,1198.0 L205.7,1197.9 L207.0,1197.7 L208.3,1197.6 L209.5,1197.5 L210.8,1197.3 L212.1,1197.2 L213.4,1197.0 L214.6,1196.8 L215.9,1196.6 L217.2,1196.5 L218.4,1196.3 L219.7,1196.0 L221.0,1195.8 L222.2,1195.6 L223.5,1195.3 L224.8,1195.1 L226.0,1194.8 L227.3,1194.5 L228.6,1194.2 L229.9,1193.9 L231.1,1193.6 L232.4,1193.3 L233.7,1192.9 L234.9,1192.5 L236.2,1192.1 L237.5,1191.7 L238.7,1191.3 L240.0,1190.9 L241.3,1190.4 L242.6,1189.9 L243.8,1189.4 L245.1,1188.9 L246.4,1188.3 L247.6,1187.7 L248.9,1187.1 L250.2,1186.5 L251.4,1185.8 L252.7,1185.1 L254.0,1184.4 L255.3,1183.7 L256.5,1182.9 L257.8,1182.1 L259.1,1181.2 L260.3,1180.3 L261.6,1179.4 L262.9,1178.5 L264.1,1177.5 L265.4,1176.4 L266.7,1175.4 L267.9,1174.3 L269.2,1173.1 L270.5,1171.9 L271.8,1170.7 L273.0,1169.4 L274.3,1168.0 L275.6,1166.7 L276.8,1165.2 L278.1,1163.7 L279.4,1162.2 L280.6,1160.6 L281.9,1158.9 L283.2,1157.2 L284.5,1155.5 L285.7,1153.6 L287.0,1151.8 L288.3,1149.8 L289.5,1147.8 L290.8,1145.7 L292.1,1143.6 L293.3,1141.3 L294.6,1139.0 L295.9,1136.7 L297.2,1134.2 L298.4,1131.7 L299.7,1129.2 L301.0,1126.5 L302.2,1123.8 L303.5,1120.9 L304.8,1118.0 L306.0,1115.0 L307.3,1112.0 L308.6,1108.8 L309.8,1105.6 L311.1,1102.2 L312.4,1098.8 L313.7,1095.3 L314.9,1091.7 L316.2,1088.0 L317.5,1084.2 L318.7,1080.3 L320.0,1076.4 L321.3,1072.3 L322.5,1068.1 L323.8,1063.8 L325.1,1059.5 L326.4,1055.0 L327.6,1050.4 L328.9,1045.8 L330.2,1041.0 L331.4,1036.1 L332.7,1031.1 L334.0,1026.0 L335.2,1020.8 L336.5,1015.6 L337.8,1010.2 L339.1,1004.7 L340.3,999.1 L341.6,993.4 L342.9,987.6 L344.1,981.7 L345.4,975.6 L346.7,969.5 L347.9,963.3 L349.2,957.0 L350.5,950.6 L351.7,944.1 L353.0,937.5 L354.3,930.8 L355.6,924.0 L356.8,917.1 L358.1,910.1 L359.4,903.1 L360.6,895.9 L361.9,888.7 L363.2,881.3 L364.4,873.9 L365.7,866.4 L367.0,858.9 L368.3,851.2 L369.5,843.5 L370.8,835.7 L372.1,827.9 L373.3,820.0 L374.6,812.0 L375.9,804.0 L377.1,795.9 L378.4,787.8 L379.7,779.6 L380.9,771.4 L382.2,763.1 L383.5,754.8 L384.8,746.5 L386.0,738.1 L387.3,729.8 L388.6,721.4 L389.8,713.0 L391.1,704.5 L392.4,696.1 L393.6,687.7 L394.9,679.3 L396.2,670.9 L397.5,662.5 L398.7,654.1 L400.0,645.7 L401.3,637.4 L402.5,629.1 L403.8,620.8 L405.1,612.6 L406.3,604.5 L407.6,596.4 L408.9,588.3 L410.2,580.3 L411.4,572.4 L412.7,564.6 L414.0,556.8 L415.2,549.1 L416.5,541.6 L417.8,534.1 L419.0,526.7 L420.3,519.4 L421.6,512.3 L422.8,505.2 L424.1,498.3 L425.4,491.5 L426.7,484.9 L427.9,478.3 L429.2,472.0 L430.5,465.7 L431.7,459.7 L433.0,453.8 L434.3,448.0 L435.5,442.4 L436.8,437.0 L438.1,431.8 L439.4,426.7 L440.6,421.8 L441.9,417.1 L443.2,412.6 L444.4,408.3 L445.7,404.2 L447.0,400.3 L448.2,396.6 L449.5,393.1 L450.8,389.8 L452.1,386.7 L453.3,383.9 L454.6,381.2 L455.9,378.8 L457.1,376.6 L458.4,374.6 L459.7,372.9 L460.9,371.3 L462.2,370.0 L463.5,369.0 L464.7,368.1 L466.0,367.5 L467.3,367.2 L468.6,367.0 L469.8,367.1 L471.1,367.4 L472.4,368.0 L473.6,368.8 L474.9,369.8 L476.2,371.0 L477.4,372.5 L478.7,374.2 L480.0,376.1 L481.3,378.2 L482.5,380.6 L483.8,383.2 L485.1,386.0 L486.3,389.0 L487.6,392.3 L488.9,395.7 L490.1,399.4 L491.4,403.2 L492.7,407.3 L494.0,411.6 L495.2,416.0 L496.5,420.7 L497.8,425.5 L499.0,430.5 L500.3,435.7 L501.6,441.1 L502.8,446.6 L504.1,452.4 L505.4,458.2 L506.6,464.3 L507.9,470.5 L509.2,476.8 L510.5,483.3 L511.7,489.9 L513.0,496.7 L514.3,503.6 L515.5,510.6 L516.8,517.7 L518.1,524.9 L519.3,532.3 L520.6,539.8 L521.9,547.3 L523.2,555.0 L524.4,562.7 L525.7,570.5 L527.0,578.4 L528.2,586.4 L529.5,594.4 L530.8,602.5 L532.0,610.7 L533.3,618.9 L534.6,627.1 L535.9,635.4 L537.1,643.7 L538.4,652.1 L539.7,660.4 L540.9,668.8 L542.2,677.2 L543.5,685.7 L544.7,694.1 L546.0,702.5 L547.3,710.9 L548.5,719.3 L549.8,727.7 L551.1,736.1 L552.4,744.5 L553.6,752.8 L554.9,761.1 L556.2,769.4 L557.4,777.6 L558.7,785.8 L560.0,793.9 L561.2,802.0 L562.5,810.1 L563.8,818.1 L565.1,826.0 L566.3,833.8 L567.6,841.6 L568.9,849.4 L570.1,857.0 L571.4,864.6 L572.7,872.1 L573.9,879.5 L575.2,886.9 L576.5,894.1 L577.8,901.3 L579.0,908.4 L580.3,915.4 L581.6,922.3 L582.8,929.1 L584.1,935.8 L585.4,942.5 L586.6,949.0 L587.9,955.4 L589.2,961.8 L590.4,968.0 L591.7,974.1 L593.0,980.2 L594.3,986.1 L595.5,991.9 L596.8,997.6 L598.1,1003.3 L599.3,1008.8 L600.6,1014.2 L601.9,1019.5 L603.1,1024.7 L604.4,1029.8 L605.7,1034.8 L607.0,1039.7 L608.2,1044.5 L609.5,1049.2 L610.8,1053.7 L612.0,1058.2 L613.3,1062.6 L614.6,1066.9 L615.8,1071.1 L617.1,1075.2 L618.4,1079.2 L619.6,1083.0 L620.9,1086.8 L622.2,1090.5 L623.5,1094.1 L624.7,1097.6 L626.0,1101.1 L627.3,1104.4 L628.5,1107.6 L629.8,1110.8 L631.1,1113.8 L632.3,1116.8 L633.6,1119.7 L634.9,1122.5 L636.2,1125.2 L637.4,1127.9 L638.7,1130.4 L640.0,1132.9 L641.2,1135.3 L642.5,1137.7 L643.8,1139.9 L645.0,1142.1 L646.3,1144.2 L647.6,1146.2 L648.9,1148.2 L650.1,1150.1 L651.4,1151.9 L652.7,1153.7 L653.9,1155.4 L655.2,1157.0 L656.5,1158.6 L657.7,1160.1 L659.0,1161.6 L660.3,1162.9 L661.5,1164.3 L662.8,1165.6 L664.1,1166.8 L665.4,1167.9 L666.6,1169.0 L667.9,1170.1 L669.2,1171.1 L670.4,1172.1 L671.7,1173.0 L673.0,1173.8 L674.2,1174.6 L675.5,1175.4 L676.8,1176.1 L678.1,1176.8 L679.3,1177.4 L680.6,1178.0 L681.9,1178.5 L683.1,1179.0 L684.4,1179.4 L685.7,1179.8 L686.9,1180.2 L688.2,1180.5 L689.5,1180.7 L690.8,1181.0 L692.0,1181.2 L693.3,1181.3 L694.6,1181.4 L695.8,1181.5 L697.1,1181.5 L698.4,1181.5 L699.6,1181.4 L700.9,1181.3 L702.2,1181.2 L703.4,1181.0 L704.7,1180.7 L706.0,1180.5 L707.3,1180.2 L708.5,1179.8 L709.8,1179.4 L711.1,1179.0 L712.3,1178.5 L713.6,1178.0 L714.9,1177.4 L716.1,1176.8 L717.4,1176.1 L718.7,1175.4 L720.0,1174.6 L721.2,1173.8 L722.5,1173.0 L723.8,1172.1 L725.0,1171.1 L726.3,1170.1 L727.6,1169.0 L728.8,1167.9 L730.1,1166.8 L731.4,1165.6 L732.7,1164.3 L733.9,1162.9 L735.2,1161.6 L736.5,1160.1 L737.7,1158.6 L739.0,1157.0 L740.3,1155.4 L741.5,1153.7 L742.8,1151.9 L744.1,1150.1 L745.3,1148.2 L746.6,1146.2 L747.9,1144.2 L749.2,1142.1 L750.4,1139.9 L751.7,1137.7 L753.0,1135.3 L754.2,1132.9 L755.5,1130.4 L756.8,1127.9 L758.0,1125.2 L759.3,1122.5 L760.6,1119.7 L761.9,1116.8 L763.1,1113.8 L764.4,1110.8 L765.7,1107.6 L766.9,1104.4 L768.2,1101.1 L769.5,1097.6 L770.7,1094.1 L772.0,1090.5 L773.3,1086.8 L774.6,1083.0 L775.8,1079.2 L777.1,1075.2 L778.4,1071.1 L779.6,1066.9 L780.9,1062.6 L782.2,1058.2 L783.4,1053.7 L784.7,1049.2 L786.0,1044.5 L787.2,1039.7 L788.5,1034.8 L789.8,1029.8 L791.1,1024.7 L792.3,1019.5 L793.6,1014.2 L794.9,1008.8 L796.1,1003.3 L797.4,997.6 L798.7,991.9 L799.9,986.1 L801.2,980.2 L802.5,974.1 L803.8,968.0 L805.0,961.8 L806.3,955.4 L807.6,949.0 L808.8,942.5 L810.1,935.8 L811.4,929.1 L812.6,922.3 L813.9,915.4 L815.2,908.4 L816.4,901.3 L817.7,894.1 L819.0,886.9 L820.3,879.5 L821.5,872.1 L822.8,864.6 L824.1,857.0 L825.3,849.4 L826.6,841.6 L827.9,833.8 L829.1,826.0 L830.4,818.1 L831.7,810.1 L833.0,802.0 L834.2,793.9 L835.5,785.8 L836.8,777.6 L838.0,769.4 L839.3,761.1 L840.6,752.8 L841.8,744.5 L843.1,736.1 L844.4,727.7 L845.7,719.3 L846.9,710.9 L848.2,702.5 L849.5,694.1 L850.7,685.7 L852.0,677.2 L853.3,668.8 L854.5,660.4 L855.8,652.1 L857.1,643.7 L858.3,635.4 L859.6,627.1 L860.9,618.9 L862.2,610.7 L863.4,602.5 L864.7,594.4 L866.0,586.4 L867.2,578.4 L868.5,570.5 L869.8,562.7 L871.0,555.0 L872.3,547.3 L873.6,539.8 L874.9,532.3 L876.1,524.9 L877.4,517.7 L878.7,510.6 L879.9,503.6 L881.2,496.7 L882.5,489.9 L883.7,483.3 L885.0,476.8 L886.3,470.5 L887.6,464.3 L888.8,458.2 L890.1,452.4 L891.4,446.6 L892.6,441.1 L893.9,435.7 L895.2,430.5 L896.4,425.5 L897.7,420.7 L899.0,416.0 L900.2,411.6 L901.5,407.3 L902.8,403.2 L904.1,399.4 L905.3,395.7 L906.6,392.3 L907.9,389.0 L909.1,386.0 L910.4,383.2 L911.7,380.6 L912.9,378.2 L914.2,376.1 L915.5,374.2 L916.8,372.5 L918.0,371.0 L919.3,369.8 L920.6,368.8 L921.8,368.0 L923.1,367.4 L924.4,367.1 L925.6,367.0 L926.9,367.2 L928.2,367.5 L929.5,368.1 L930.7,369.0 L932.0,370.0 L933.3,371.3 L934.5,372.9 L935.8,374.6 L937.1,376.6 L938.3,378.8 L939.6,381.2 L940.9,383.9 L942.1,386.7 L943.4,389.8 L944.7,393.1 L946.0,396.6 L947.2,400.3 L948.5,404.2 L949.8,408.3 L951.0,412.6 L952.3,417.1 L953.6,421.8 L954.8,426.7 L956.1,431.8 L957.4,437.0 L958.7,442.4 L959.9,448.0 L961.2,453.8 L962.5,459.7 L963.7,465.7 L965.0,472.0 L966.3,478.3 L967.5,484.9 L968.8,491.5 L970.1,498.3 L971.4,505.2 L972.6,512.3 L973.9,519.4 L975.2,526.7 L976.4,534.1 L977.7,541.6 L979.0,549.1 L980.2,556.8 L981.5,564.6 L982.8,572.4 L984.0,580.3 L985.3,588.3 L986.6,596.4 L987.9,604.5 L989.1,612.6 L990.4,620.8 L991.7,629.1 L992.9,637.4 L994.2,645.7 L995.5,654.1 L996.7,662.5 L998.0,670.9 L999.3,679.3 L1000.6,687.7 L1001.8,696.1 L1003.1,704.5 L1004.4,713.0 L1005.6,721.4 L1006.9,729.8 L1008.2,738.1 L1009.4,746.5 L1010.7,754.8 L1012.0,763.1 L1013.3,771.4 L1014.5,779.6 L1015.8,787.8 L1017.1,795.9 L1018.3,804.0 L1019.6,812.0 L1020.9,820.0 L1022.1,827.9 L1023.4,835.7 L1024.7,843.5 L1025.9,851.2 L1027.2,858.9 L1028.5,866.4 L1029.8,873.9 L1031.0,881.3 L1032.3,888.7 L1033.6,895.9 L1034.8,903.1 L1036.1,910.1 L1037.4,917.1 L1038.6,924.0 L1039.9,930.8 L1041.2,937.5 L1042.5,944.1 L1043.7,950.6 L1045.0,957.0 L1046.3,963.3 L1047.5,969.5 L1048.8,975.6 L1050.1,981.7 L1051.3,987.6 L1052.6,993.4 L1053.9,999.1 L1055.1,1004.7 L1056.4,1010.2 L1057.7,1015.6 L1059.0,1020.8 L1060.2,1026.0 L1061.5,1031.1 L1062.8,1036.1 L1064.0,1041.0 L1065.3,1045.8 L1066.6,1050.4 L1067.8,1055.0 L1069.1,1059.5 L1070.4,1063.8 L1071.7,1068.1 L1072.9,1072.3 L1074.2,1076.4 L1075.5,1080.3 L1076.7,1084.2 L1078.0,1088.0 L1079.3,1091.7 L1080.5,1095.3 L1081.8,1098.8 L1083.1,1102.2 L1084.4,1105.6 L1085.6,1108.8 L1086.9,1112.0 L1088.2,1115.0 L1089.4,1118.0 L1090.7,1120.9 L1092.0,1123.8 L1093.2,1126.5 L1094.5,1129.2 L1095.8,1131.7 L1097.0,1134.2 L1098.3,1136.7 L1099.6,1139.0 L1100.9,1141.3 L1102.1,1143.6 L1103.4,1145.7 L1104.7,1147.8 L1105.9,1149.8 L1107.2,1151.8 L1108.5,1153.6 L1109.7,1155.5 L1111.0,1157.2 L1112.3,1158.9 L1113.6,1160.6 L1114.8,1162.2 L1116.1,1163.7 L1117.4,1165.2 L1118.6,1166.7 L1119.9,1168.0 L1121.2,1169.4 L1122.4,1170.7 L1123.7,1171.9 L1125.0,1173.1 L1126.3,1174.3 L1127.5,1175.4 L1128.8,1176.4 L1130.1,1177.5 L1131.3,1178.5 L1132.6,1179.4 L1133.9,1180.3 L1135.1,1181.2 L1136.4,1182.1 L1137.7,1182.9 L1138.9,1183.7 L1140.2,1184.4 L1141.5,1185.1 L1142.8,1185.8 L1144.0,1186.5 L1145.3,1187.1 L1146.6,1187.7 L1147.8,1188.3 L1149.1,1188.9 L1150.4,1189.4 L1151.6,1189.9 L1152.9,1190.4 L1154.2,1190.9 L1155.5,1191.3 L1156.7,1191.7 L1158.0,1192.1 L1159.3,1192.5 L1160.5,1192.9 L1161.8,1193.3 L1163.1,1193.6 L1164.3,1193.9 L1165.6,1194.2 L1166.9,1194.5 L1168.2,1194.8 L1169.4,1195.1 L1170.7,1195.3 L1172.0,1195.6 L1173.2,1195.8 L1174.5,1196.0 L1175.8,1196.3 L1177.0,1196.5 L1178.3,1196.6 L1179.6,1196.8 L1180.8,1197.0 L1182.1,1197.2 L1183.4,1197.3 L1184.7,1197.5 L1185.9,1197.6 L1187.2,1197.7 L1188.5,1197.9 L1189.7,1198.0 L1191.0,1198.1 L1192.3,1198.2 L1193.5,1198.3 L1194.8,1198.4 L1196.1,1198.5 L1197.4,1198.6 L1198.6,1198.7 L1199.9,1198.7 L1201.2,1198.8 L1202.4,1198.9 L1203.7,1199.0 L1205.0,1199.0 L1206.2,1199.1 L1207.5,1199.1 L1208.8,1199.2 L1210.1,1199.2 L1211.3,1199.3 L1212.6,1199.3 L1213.9,1199.4 L1215.1,1199.4 L1216.4,1199.4 L1217.7,1199.5 L1218.9,1199.5 L1220.2,1199.5 L1221.5,1199.6 L1222.7,1199.6 L1224.0,1199.6 L1225.3,1199.6 L1226.6,1199.7 L1227.8,1199.7 L1229.1,1199.7 L1230.4,1199.7 L1231.6,1199.7 L1232.9,1199.8 L1234.2,1199.8 L1235.4,1199.8 L1236.7,1199.8 L1238.0,1199.8 L1239.3,1199.8 L1240.5,1199.8 L1241.8,1199.9 L1243.1,1199.9 L1244.3,1199.9 L1245.6,1199.9 L1246.9,1199.9 L1248.1,1199.9 L1249.4,1199.9 L1250.7,1199.9 L1251.9,1199.9 L1253.2,1199.9 L1254.5,1199.9 L1255.8,1199.9 L1257.0,1199.9 L1258.3,1199.9 L1259.6,1199.9 L1260.8,1199.9 L1262.1,1200.0 L1263.4,1200.0 L1264.6,1200.0 L1265.9,1200.0 L1267.2,1200.0 L1268.5,1200.0 L1269.7,1200.0 L1271.0,1200.0 L1272.3,1200.0 L1273.5,1200.0 L1274.8,1200.0 L1276.1,1200.0 L1277.3,1200.0 L1278.6,1200.0 L1279.9,1200.0 L1281.2,1200.0 L1282.4,1200.0 L1283.7,1200.0 L1285.0,1200.0 L1286.2,1200.0 L1287.5,1200.0 L1288.8,1200.0 L1290.0,1200.0 L1291.3,1200.0 L1292.6,1200.0 L1293.8,1200.0 L1295.1,1200.0 L1296.4,1200.0 L1297.7,1200.0 L1298.9,1200.0 L1300.2,1200.0 L1301.5,1200.0 L1302.7,1200.0 L1304.0,1200.0 L1305.3,1200.0 L1306.5,1200.0 L1307.8,1200.0 L1309.1,1200.0 L1310.4,1200.0 L1311.6,1200.0 L1312.9,1200.0 L1314.2,1200.0 L1315.4,1200.0 L1316.7,1200.0 L1318.0,1200.0 L1319.2,1200.0 L1320.5,1200.0 L1321.8,1200.0 L1323.1,1200.0 L1324.3,1200.0 L1325.6,1200.0 L1326.9,1200.0 L1328.1,1200.0 L1329.4,1200.0 L1330.7,1200.0 L1331.9,1200.0 L1333.2,1200.0 L1334.5,1200.0 L1335.7,1200.0 L1337.0,1200.0 L1338.3,1200.0 L1339.6,1200.0 L1340.8,1200.0 L1342.1,1200.0 L1343.4,1200.0 L1344.6,1200.0 L1345.9,1200.0 L1347.2,1200.0 L1348.4,1200.0 L1349.7,1200.0 L1351.0,1200.0 L1352.3,1200.0 L1353.5,1200.0 L1354.8,1200.0 L1356.1,1200.0 L1357.3,1200.0 L1358.6,1200.0 L1359.9,1200.0 L1361.1,1200.0 L1362.4,1200.0 L1363.7,1200.0 L1365.0,1200.0 L1366.2,1200.0 L1367.5,1200.0 L1368.8,1200.0 L1370.0,1200.0 L1371.3,1200.0 L1372.6,1200.0 L1373.8,1200.0 L1375.1,1200.0 L1376.4,1200.0 L1377.6,1200.0 L1378.9,1200.0 L1380.2,1200.0 L1381.5,1200.0 L1382.7,1200.0" stroke="#000" stroke-width="7.6"/>
</g>
<line x1="11.6" y1="1200.0" x2="1382.8" y2="1200.0" stroke="#000" stroke-width="3.7"/>
<line x1="697.3" y1="92" x2="697.3" y2="1200.0" stroke="#000" stroke-width="3.7"/>
<g class="num"><text transform="translate(66.85,1269.57) scale(0.3438,0.5622)" style="font-size:100px">−</text><text x="89.6" y="1265">8</text><text transform="translate(219.11,1269.57) scale(0.3438,0.5622)" style="font-size:100px">−</text><text x="241.8" y="1265">6</text><text transform="translate(371.37,1269.57) scale(0.3438,0.5622)" style="font-size:100px">−</text><text x="394.1" y="1265">4</text><text transform="translate(523.63,1269.57) scale(0.3438,0.5622)" style="font-size:100px">−</text><text x="546.3" y="1265">2</text><text x="694.6" y="1265" text-anchor="middle">0</text><text x="847.9" y="1265" text-anchor="middle">2</text><text x="1001.6" y="1265" text-anchor="middle">4</text><text x="1152.8" y="1265" text-anchor="middle">6</text><text x="1305.8" y="1265" text-anchor="middle">8</text><text x="668.2" y="1008.0" text-anchor="end" letter-spacing="-0.5">0.1</text><text x="668.2" y="798.9" text-anchor="end" letter-spacing="-0.5">0.2</text><text x="668.2" y="589.9" text-anchor="end" letter-spacing="-0.5">0.3</text><text x="668.2" y="380.8" text-anchor="end" letter-spacing="-0.5">0.4</text><text x="668.2" y="171.8" text-anchor="end" letter-spacing="-0.5">0.5</text></g>
<g class="lg"><g fill="#ed1c24"><text transform="translate(999.46,171.96) scale(0.4940,0.4575)" style="font-size:100px" font-style="italic">q</text><text transform="translate(1029.99,169.68) scale(0.5437,0.4000)" style="font-size:100px">=</text><text x="1068.4" y="171.2" letter-spacing="-0.4">2</text></g><g fill="#3853a4"><text transform="translate(1010.46,275.36) scale(0.4940,0.4575)" style="font-size:100px" font-style="italic">q</text><text transform="translate(1040.99,273.08) scale(0.5437,0.4000)" style="font-size:100px">=</text><text x="1079.4" y="274.6" letter-spacing="-0.4">1.5</text></g><g fill="#0a0a0a"><text transform="translate(1031.46,422.16) scale(0.4940,0.4575)" style="font-size:100px" font-style="italic">q</text><text transform="translate(1061.99,419.88) scale(0.5437,0.4000)" style="font-size:100px">=</text><text x="1100.4" y="421.4" letter-spacing="-0.4">1</text></g><g fill="#6abd45"><text transform="translate(1031.46,546.86) scale(0.4940,0.4575)" style="font-size:100px" font-style="italic">q</text><text transform="translate(1061.99,544.58) scale(0.5437,0.4000)" style="font-size:100px">=</text><text x="1100.4" y="546.1" letter-spacing="-0.4">0.5</text></g></g>
<g class="ax" filter="url(#bl)"><text transform="translate(497.15,55.43) scale(0.7007,0.5860)" style="font-size:100px" font-style="italic" stroke="#262626" stroke-width="0.78" stroke-linejoin="round">v</text><text transform="translate(527.78,62.91) scale(0.4788,0.4509)" style="font-size:100px" font-style="italic" stroke="#262626" stroke-width="2.58" stroke-linejoin="round">t</text><text transform="translate(545.97,63.04) scale(0.5482,0.4470)" style="font-size:100px" font-style="italic" stroke="#262626" stroke-width="2.42" stroke-linejoin="round">h</text><text transform="translate(577.31,56.67) scale(0.7917,0.6597)" style="font-size:100px" font-style="italic">f</text><text transform="translate(616.42,56.89) scale(0.5090,0.7159)" style="font-size:100px" font-style="italic" stroke="#262626" stroke-width="0.50" stroke-linejoin="round">(</text><text transform="translate(637.78,55.43) scale(0.7007,0.5860)" style="font-size:100px" font-style="italic" stroke="#262626" stroke-width="0.78" stroke-linejoin="round">v</text><text transform="translate(676.22,70.54) scale(0.6876,0.9748)" style="font-size:100px" font-style="italic">/</text><text transform="translate(703.48,55.43) scale(0.6641,0.5860)" style="font-size:100px" font-style="italic" stroke="#262626" stroke-width="0.80" stroke-linejoin="round">v</text><text transform="translate(733.42,62.91) scale(0.4478,0.4509)" style="font-size:100px" font-style="italic" stroke="#262626" stroke-width="2.67" stroke-linejoin="round">t</text><text transform="translate(751.54,63.04) scale(0.5296,0.4470)" style="font-size:100px" font-style="italic" stroke="#262626" stroke-width="2.47" stroke-linejoin="round">h</text><text transform="translate(785.27,56.89) scale(0.5083,0.7159)" style="font-size:100px" font-style="italic" stroke="#262626" stroke-width="0.50" stroke-linejoin="round">)</text><text transform="translate(811.79,70.54) scale(0.6876,0.9748)" style="font-size:100px" font-style="italic">/</text><text transform="translate(835.92,55.78) scale(0.7879,0.5836)" style="font-size:100px" font-style="italic">n</text><text transform="translate(873.98,63.11) scale(0.4816,0.4585)" style="font-size:100px" stroke="#262626" stroke-width="1.70" stroke-linejoin="round">0</text><text transform="translate(974.27,1342.44) scale(0.7190,0.6080)" style="font-size:100px" font-style="italic" stroke="#262626" stroke-width="0.76" stroke-linejoin="round">v</text><text transform="translate(1013.99,1356.23) scale(0.7145,0.9396)" style="font-size:100px" font-style="italic">/</text><text transform="translate(1040.70,1342.44) scale(0.7190,0.6080)" style="font-size:100px" font-style="italic" stroke="#262626" stroke-width="0.76" stroke-linejoin="round">v</text><text transform="translate(1072.15,1349.95) scale(0.4591,0.4579)" style="font-size:100px" font-style="italic" stroke="#262626" stroke-width="2.62" stroke-linejoin="round">t</text><text transform="translate(1089.52,1350.11) scale(0.4958,0.4460)" style="font-size:100px" font-style="italic" stroke="#262626" stroke-width="2.55" stroke-linejoin="round">h</text></g>
</svg>
</body></html>
